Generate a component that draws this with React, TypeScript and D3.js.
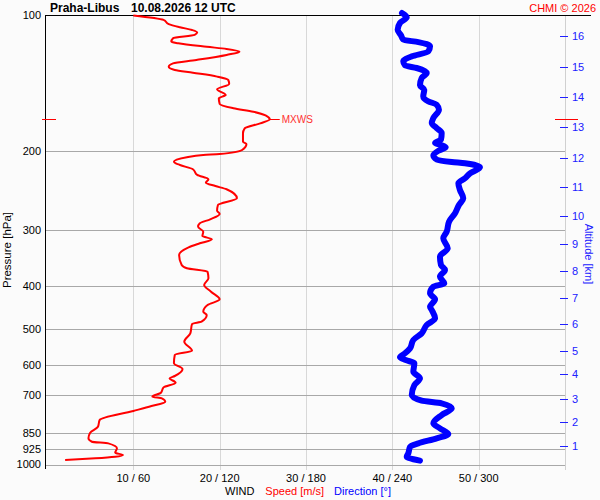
import { useEffect, useRef } from 'react';
import * as d3 from 'd3';

// Wind speed profile: pressure [hPa] and speed [m/s]
const speedPressure = [
  100, 102.3, 104.5, 106.2, 107.7, 109.0, 110.5, 112.4, 114.4, 115.3,
  117.4, 118.7, 120.4, 122.4, 125.6, 127.8, 130.0, 132.2, 134.1, 136.8,
  139.2, 142.1, 146.0, 150.3, 152.9, 157.4, 160.9, 163.8, 170.3, 173.9,
  178.4, 183.0, 191.0, 193.3, 199.3, 203.5, 204.5, 206.9, 211.6, 215.3,
  220.0, 226.5, 231.6, 235.7, 239.8, 243.8, 255.3, 264.2, 272.1, 276.7,
  284.4, 290.3, 295.4, 303.1, 309.8, 315.1, 321.6, 328.3, 341.5, 359.5,
  365.6, 372.1, 384.9, 398.3, 412.2, 428.6, 441.4, 456.8, 464.5, 480.8,
  486.5, 510.3, 532.7, 557.8, 570.3, 595.1, 612.8, 635.2, 642.7, 657.4,
  673.2, 692.1, 706.3, 712.2, 724.6, 740.8, 760.0, 796.0, 824.0, 849.8,
  874.5, 889.9, 897.3, 920.5, 941.5, 952.6, 961.0, 969.0, 977.3,
];
const speedValues = [
  10.0, 13.5, 14.1, 15.4, 16.8, 17.4, 17.1, 14.6, 14.4, 15.2,
  18.5, 20.8, 22.3, 20.8, 17.3, 14.6, 14.1, 14.8, 16.9, 19.7,
  21.0, 21.1, 19.7, 20.7, 19.9, 20.0, 21.6, 23.9, 25.8, 24.7,
  22.9, 22.7, 22.7, 23.1, 22.6, 20.0, 18.1, 16.2, 14.7, 15.4,
  16.9, 17.4, 18.7, 18.4, 19.5, 20.8, 22.0, 19.8, 19.7, 20.0,
  18.9, 17.7, 17.5, 18.1, 18.0, 19.1, 17.7, 16.4, 15.3, 15.6,
  16.2, 18.6, 18.7, 18.2, 19.0, 20.0, 18.6, 18.1, 18.5, 17.9,
  16.8, 16.6, 15.9, 16.8, 14.8, 14.7, 15.7, 14.8, 14.2, 14.9,
  13.5, 13.2, 12.2, 13.3, 13.7, 12.1, 10.0, 6.1, 5.9, 5.0,
  4.8, 5.2, 7.1, 8.1, 7.9, 8.8, 7.9, 5.6, 2.1,
];

// Wind direction profile: pressure [hPa] and direction [deg]
const dirPressure = [
  98.7, 100.9, 103.9, 107.6, 110.7, 113.2, 114.6, 117.1, 120.2, 123.3,
  126.5, 129.1, 130.9, 134.3, 137.8, 143.0, 146.3, 151.4, 155.3, 158.0,
  162.1, 169.2, 173.6, 178.1, 182.7, 189.1, 192.3, 194.0, 196.6, 200.1,
  204.8, 209.5, 212.0, 213.4, 217.8, 224.6, 230.5, 236.4, 244.7, 255.3,
  264.2, 275.7, 287.8, 303.1, 313.5, 330.0, 344.5, 359.5, 368.8, 381.7,
  394.9, 401.8, 415.6, 428.6, 445.3, 452.9, 472.5, 489.0, 510.3, 528.1,
  551.1, 565.4, 577.1, 585.3, 595.1, 621.4, 642.7, 665.3, 700.3, 721.0,
  730.8, 749.8, 776.0, 809.5, 830.7, 855.5, 874.5, 897.3, 913.2, 944.1,
  961.0, 973.6, 980.6,
];
const dirValues = [
  246.7, 250.0, 245.3, 243.7, 246.0, 247.6, 258.1, 266.2, 265.0, 253.5,
  247.6, 248.8, 256.9, 263.9, 260.4, 259.2, 262.2, 261.5, 265.0, 270.8,
  272.4, 268.5, 267.4, 270.8, 274.3, 273.8, 269.7, 273.1, 277.1, 272.0,
  268.5, 271.1, 281.3, 290.5, 300.9, 294.0, 290.5, 285.9, 287.0, 289.3,
  286.3, 283.6, 279.4, 277.8, 275.4, 278.5, 273.1, 273.8, 276.6, 273.1,
  276.1, 268.5, 266.2, 269.7, 266.2, 267.4, 269.7, 263.9, 260.4, 254.6,
  252.3, 248.8, 245.3, 249.3, 255.3, 254.6, 259.2, 255.3, 253.5, 260.4,
  274.3, 281.3, 274.3, 268.5, 273.1, 278.9, 270.8, 258.1, 252.3, 251.1,
  250.0, 254.6, 259.2,
];

const pressureTicks = [100, 200, 300, 400, 500, 600, 700, 850, 925, 1000];
const speedTicks = [10, 20, 30, 40, 50];
const dirTicks = [60, 120, 180, 240, 300];
const altitudeKm = [1, 2, 3, 4, 5, 6, 7, 8, 9, 10, 11, 12, 13, 14, 15, 16];
const altitudePressure = [908, 804, 715, 629, 558, 487, 426, 371, 323, 280, 241, 208, 177, 152, 130, 111];

const FONT = 'Arial, "Liberation Sans", sans-serif';

export default function App() {
  const svgRef = useRef<SVGSVGElement>(null);

  useEffect(() => {
    if (!svgRef.current) return;
    const svg = d3.select(svgRef.current);
    svg.selectAll('*').remove();

    const left = 45;
    const right = 565;
    const top = 15.5;
    const bottom = 464.5;

    const y = d3.scaleLog().domain([100, 1000]).range([top, bottom]);
    const xs = d3.scaleLinear().domain([0, 60]).range([47, right]);
    const xd = d3.scaleLinear().domain([0, 360]).range([47, right]);

    svg.append('rect').attr('width', 600).attr('height', 500).attr('fill', '#fbfbfb');

    // vertical grid
    svg.append('g')
      .selectAll('line')
      .data(speedTicks)
      .join('line')
      .attr('x1', d => Math.round(xs(d)) + 0.5)
      .attr('x2', d => Math.round(xs(d)) + 0.5)
      .attr('y1', top)
      .attr('y2', 470)
      .attr('stroke', '#d8d8d8');

    // right axis line
    svg.append('line')
      .attr('x1', right + 0.5).attr('x2', right + 0.5)
      .attr('y1', top).attr('y2', 470)
      .attr('stroke', '#d0d0d0');

    // horizontal grid
    svg.append('g')
      .selectAll('line')
      .data(pressureTicks.slice(1))
      .join('line')
      .attr('x1', left)
      .attr('x2', right)
      .attr('y1', d => Math.round(y(d)) + 0.5)
      .attr('y2', d => Math.round(y(d)) + 0.5)
      .attr('stroke', '#a8a8a8');

    // top and left axis lines
    svg.append('line')
      .attr('x1', left).attr('x2', 591)
      .attr('y1', top).attr('y2', top)
      .attr('stroke', '#000');
    svg.append('line')
      .attr('x1', left + 0.5).attr('x2', left + 0.5)
      .attr('y1', top).attr('y2', 469)
      .attr('stroke', '#000');

    // pressure labels
    svg.append('g')
      .attr('font-family', FONT)
      .attr('font-size', 11)
      .attr('text-anchor', 'end')
      .selectAll('text')
      .data(pressureTicks)
      .join('text')
      .attr('x', 41)
      .attr('y', d => y(d))
      .attr('dy', '0.35em')
      .text(d => d);

    svg.append('text')
      .attr('transform', `translate(11,${(top + bottom) / 2 + 10}) rotate(-90)`)
      .attr('text-anchor', 'middle')
      .attr('font-family', FONT)
      .attr('font-size', 11.5)
      .text('Pressure [hPa]');

    // x labels
    svg.append('g')
      .attr('font-family', FONT)
      .attr('font-size', 11)
      .attr('text-anchor', 'middle')
      .selectAll('text')
      .data(speedTicks)
      .join('text')
      .attr('x', d => xs(d))
      .attr('y', 482)
      .text((d, i) => `${d} / ${dirTicks[i]}`);

    const legend = svg.append('text')
      .attr('x', 225)
      .attr('y', 495)
      .attr('font-family', FONT)
      .attr('font-size', 11);
    legend.append('tspan').attr('fill', '#000').text('WIND');
    legend.append('tspan').attr('fill', '#ff0000').attr('dx', 11).text('Speed [m/s]');
    legend.append('tspan').attr('fill', '#0000ff').attr('dx', 10).text('Direction [°]');

    // altitude axis
    const alt = svg.append('g')
      .attr('font-family', FONT)
      .attr('font-size', 11)
      .attr('fill', '#2020ff');
    alt.selectAll('line')
      .data(altitudePressure)
      .join('line')
      .attr('x1', 560).attr('x2', 568)
      .attr('y1', d => Math.round(y(d)) + 0.5)
      .attr('y2', d => Math.round(y(d)) + 0.5)
      .attr('stroke', '#2020ff');
    alt.selectAll('text')
      .data(altitudePressure)
      .join('text')
      .attr('x', 572)
      .attr('y', d => y(d))
      .attr('dy', '0.38em')
      .text((d, i) => altitudeKm[i]);
    svg.append('text')
      .attr('transform', `translate(585,254) rotate(90)`)
      .attr('text-anchor', 'middle')
      .attr('font-family', FONT)
      .attr('font-size', 11)
      .attr('fill', '#2020ff')
      .text('Altitude [km]');

    // direction line
    const dirLine = d3.line<number>()
      .x(d => xd(d))
      .y((d, i) => y(dirPressure[i]))
      .curve(d3.curveMonotoneY);
    svg.append('path')
      .attr('d', dirLine(dirValues))
      .attr('fill', 'none')
      .attr('stroke', '#0000ff')
      .attr('stroke-width', 6)
      .attr('stroke-linejoin', 'round')
      .attr('stroke-linecap', 'round');

    // speed line
    const speedLine = d3.line<number>()
      .x(d => xs(d))
      .y((d, i) => y(speedPressure[i]))
      .curve(d3.curveMonotoneY);
    svg.append('path')
      .attr('d', speedLine(speedValues))
      .attr('fill', 'none')
      .attr('stroke', '#ff0000')
      .attr('stroke-width', 2)
      .attr('stroke-linejoin', 'round');

    // max wind speed marker
    const mi = d3.maxIndex(speedValues);
    const my = Math.round(y(speedPressure[mi])) + 0.5;
    const mx = xs(speedValues[mi]);
    const mark = svg.append('g').attr('stroke', '#ff0000');
    mark.append('line').attr('x1', 42).attr('x2', 56).attr('y1', my).attr('y2', my);
    mark.append('line').attr('x1', 555).attr('x2', 578).attr('y1', my).attr('y2', my);
    mark.append('line').attr('x1', mx).attr('x2', mx + 10).attr('y1', my).attr('y2', my);
    svg.append('text')
      .attr('x', mx + 12)
      .attr('y', my)
      .attr('dy', '0.35em')
      .attr('font-family', FONT)
      .attr('font-size', 10)
      .attr('fill', '#ff3030')
      .text('MXWS');

    // title
    const title = svg.append('text')
      .attr('x', 50)
      .attr('y', 12)
      .attr('font-family', FONT)
      .attr('font-size', 12)
      .attr('font-weight', 'bold');
    title.append('tspan').text('Praha-Libus');
    title.append('tspan').attr('x', 131).text('10.08.2026 12 UTC');

    svg.append('text')
      .attr('x', 596)
      .attr('y', 12)
      .attr('text-anchor', 'end')
      .attr('font-family', FONT)
      .attr('font-size', 11)
      .attr('fill', '#ff0000')
      .text('CHMI © 2026');
  }, []);

  return (
    <div style={{ position: 'fixed', left: 0, top: 0 }}>
      <svg ref={svgRef} width={600} height={500} style={{ display: 'block' }} />
    </div>
  );
}
